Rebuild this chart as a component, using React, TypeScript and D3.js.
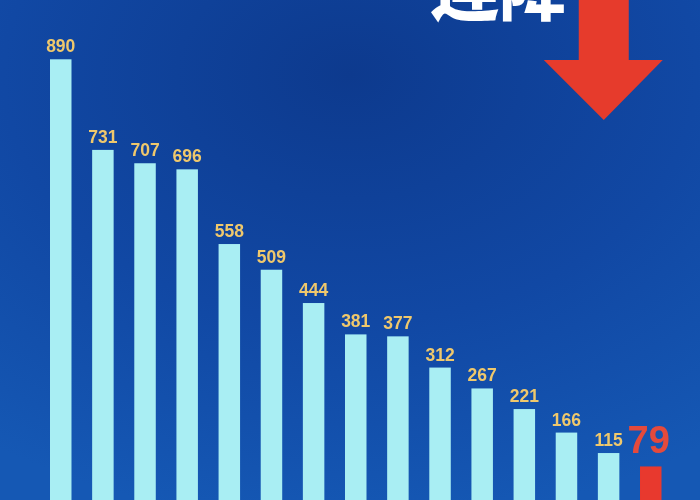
import { useMemo } from 'react';
import * as d3 from 'd3';

const categories = ['1', '2', '3', '4', '5', '6', '7', '8', '9', '10', '11', '12', '13', '14', '15'];
const values = [890, 731, 707, 696, 558, 509, 444, 381, 377, 312, 267, 221, 166, 115, 79];
const title = '连降';

const W = 700;
const H = 500;

export default function App() {
	const x = useMemo(
		() => d3.scaleBand().domain(categories).range([50, 661.5]).paddingInner(0.49).paddingOuter(0),
		[]
	);
	// the picture compresses the small values a little, a mild power scale follows it best
	const y = useMemo(() => d3.scalePow().exponent(1.2).domain([0, 890]).range([490, 59.3]), []);

	const last = categories.length - 1;
	const lastX = (x(categories[last]) || 0) + x.bandwidth() / 2;

	// red down arrow in the top right corner
	const arrow = d3.path();
	const ax = lastX - 47;
	arrow.moveTo(ax - 25, 0);
	arrow.lineTo(ax + 25, 0);
	arrow.lineTo(ax + 25, 60);
	arrow.lineTo(ax + 59, 60);
	arrow.lineTo(ax, 120);
	arrow.lineTo(ax - 60, 60);
	arrow.lineTo(ax - 25, 60);
	arrow.closePath();

	return (
		<svg
			width={W}
			height={H}
			style={{ position: 'fixed', left: 0, top: 0, display: 'block' }}
			fontFamily="'Liberation Sans', Arial, sans-serif"
		>
			<defs>
				<radialGradient id="bg" cx="0.5" cy="0.15" r="0.9">
					<stop offset="0" stopColor="#0d3a8e" />
					<stop offset="0.55" stopColor="#1148a4" />
					<stop offset="1" stopColor="#1558b4" />
				</radialGradient>
			</defs>
			<rect width={W} height={H} fill="url(#bg)" />

			<text
				x={431}
				y={15}
				fill="#ffffff"
				fontSize={68}
				fontWeight={900}
				fontFamily="'Noto Sans CJK SC', sans-serif"
			>
				{title}
			</text>
			<path d={arrow.toString()} fill="#e63b2c" />

			{values.map((v, i) => {
				const bx = x(categories[i]) || 0;
				const isLast = i === last;
				return (
					<g key={categories[i]}>
						<rect
							x={bx}
							y={y(v)}
							width={x.bandwidth()}
							height={H - y(v)}
							fill={isLast ? '#e8392e' : '#a9eef3'}
						/>
						{isLast ? (
							<text
								x={bx + x.bandwidth() / 2 - 2}
								y={y(v) - 13}
								textAnchor="middle"
								fill="#e44a3c"
								fontSize={38}
								fontWeight="bold"
							>
								{v}
							</text>
						) : (
							<text
								x={bx + x.bandwidth() / 2}
								y={y(v) - 7}
								textAnchor="middle"
								fill="#efc86c"
								fontSize={17.5}
								fontWeight="bold"
							>
								{v}
							</text>
						)}
					</g>
				);
			})}
		</svg>
	);
}
